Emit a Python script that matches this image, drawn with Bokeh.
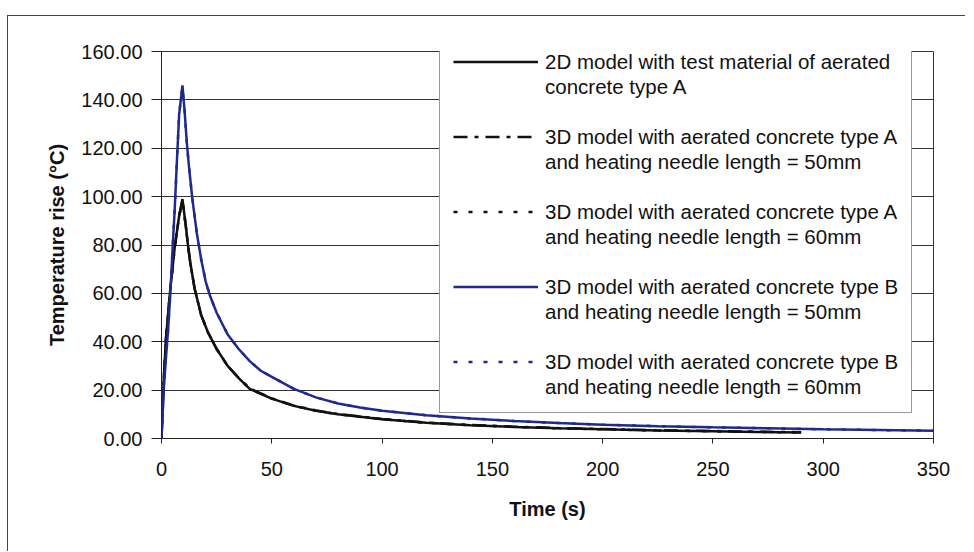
from bokeh.plotting import figure
from bokeh.models import (Legend, LegendItem, FixedTicker, PrintfTickFormatter, Range1d)
from bokeh.embed import file_html
from bokeh.resources import INLINE

# ---- data ----
time_2d = [0, 1, 2, 4, 6, 8, 9.5, 11, 12, 13, 15, 18, 21, 25, 30, 35, 40, 45, 50,
           60, 70, 80, 90, 100, 120, 140, 160, 180, 200, 225, 250, 270, 290]
temp_2d = [0, 24, 41, 62, 79, 92, 99, 88, 80, 73, 62, 51, 44, 37, 30, 25, 20.5, 18.5, 16.5,
           13.5, 11.5, 10, 9, 8, 6.5, 5.5, 4.8, 4.2, 3.8, 3.3, 3.0, 2.7, 2.5]

time_3d_a50 = [0, 1, 2, 4, 6, 8, 9.5, 11, 12, 13, 15, 18, 21, 25, 30, 35, 40, 45, 50,
               60, 70, 80, 90, 100, 120, 140, 160, 180, 200, 225, 250, 270, 290]
temp_3d_a50 = [0, 24, 41, 62, 79, 92, 98.5, 88, 80, 73, 62, 51, 44, 37, 30, 25, 20.7, 18.6, 16.6,
               13.6, 11.6, 10.1, 9.1, 8.1, 6.6, 5.6, 4.9, 4.3, 3.9, 3.4, 3.1, 2.8, 2.6]

time_3d_a60 = [0, 1, 2, 4, 6, 8, 9.5, 11, 12, 13, 15, 18, 21, 25, 30, 35, 40, 45, 50,
               60, 70, 80, 90, 100, 120, 140, 160, 180, 200, 225, 250, 270, 290]
temp_3d_a60 = [0, 24, 41, 62, 79, 92, 98, 88, 80, 73, 62, 51, 44, 37, 30, 25, 20.6, 18.5, 16.5,
               13.5, 11.5, 10, 9, 8, 6.5, 5.5, 4.8, 4.2, 3.8, 3.3, 3.0, 2.7, 2.5]

time_3d_b50 = [0, 1, 2, 3, 4, 5, 6, 7, 8, 9.5, 10.5, 11.5, 12.5, 14, 16, 18, 20, 22, 25, 30, 35,
               40, 45, 50, 60, 70, 80, 90, 100, 120, 140, 160, 180, 200, 225, 250, 275,
               300, 325, 350]
temp_3d_b50 = [0, 20, 33, 45, 60, 78, 95, 115, 134, 146, 135, 122, 112, 99, 85, 74, 65, 59,
               52, 43, 37, 32, 28, 25.5, 20.5, 17, 14.5, 12.8, 11.5, 9.6, 8.3, 7.2, 6.4,
               5.7, 5.1, 4.6, 4.2, 3.8, 3.5, 3.2]

time_3d_b60 = [0, 1, 2, 3, 4, 5, 6, 7, 8, 9.5, 10.5, 11.5, 12.5, 14, 16, 18, 20, 22, 25, 30, 35,
               40, 45, 50, 60, 70, 80, 90, 100, 120, 140, 160, 180, 200, 225, 250, 275,
               300, 325, 350]
temp_3d_b60 = [0, 20, 33, 45, 60, 78, 95, 115, 134, 145.5, 135, 122, 112, 99, 85, 74, 65, 59,
               52, 43, 37, 32, 28, 25.5, 20.5, 17, 14.5, 12.8, 11.5, 9.6, 8.3, 7.2, 6.4,
               5.7, 5.1, 4.6, 4.2, 3.8, 3.5, 3.2]

legend_lines = [
    ("2D model with test material of aerated", "concrete type A"),
    ("3D model with aerated concrete type A", "and heating needle length = 50mm"),
    ("3D model with aerated concrete type A", "and heating needle length = 60mm"),
    ("3D model with aerated concrete type B", "and heating needle length = 50mm"),
    ("3D model with aerated concrete type B", "and heating needle length = 60mm"),
]
x_ticks = [0, 50, 100, 150, 200, 250, 300, 350]
y_ticks = [0, 20, 40, 60, 80, 100, 120, 140, 160]

FONT = "Liberation Sans"
BLACK = "#111111"
BLUE = "#1f2a8c"

p = figure(width=958, height=536, output_backend="svg", toolbar_location=None,
           x_range=Range1d(0, 350), y_range=Range1d(0, 160),
           min_border_left=153, min_border_right=33, min_border_top=35,
           min_border_bottom=114, background_fill_color="white",
           border_fill_color="white")
p.styles = {"margin-left": "7px", "margin-top": "15px",
            "border-left": "1px solid #444444", "border-top": "1px solid #444444"}

p.outline_line_color = "#333333"
p.outline_line_width = 1
p.xgrid.grid_line_color = None
p.ygrid.grid_line_color = "#333333"
p.ygrid.grid_line_width = 1

p.xaxis.ticker = FixedTicker(ticks=x_ticks)
p.yaxis.ticker = FixedTicker(ticks=y_ticks)
p.yaxis.formatter = PrintfTickFormatter(format="%.2f")
p.xaxis.axis_label = "Time (s)"
p.yaxis.axis_label = "Temperature rise (°C)"
for ax in (p.xaxis, p.yaxis):
    ax.axis_line_color = "#222222"
    ax.major_tick_line_color = "#222222"
    ax.minor_tick_line_color = None
    ax.major_tick_in = 0
    ax.major_label_text_font = FONT
    ax.major_label_text_font_size = "20px"
    ax.major_label_text_color = BLACK
    ax.axis_label_text_font = FONT
    ax.axis_label_text_font_size = "20px"
    ax.axis_label_text_font_style = "bold"
    ax.axis_label_text_color = BLACK
p.yaxis.major_tick_out = 10
p.yaxis.major_label_standoff = 9
p.yaxis.axis_label_standoff = 10
p.xaxis.major_tick_out = 5
p.xaxis.major_label_standoff = 18
p.xaxis.axis_label_standoff = 19

r1 = p.line(time_2d, temp_2d, line_color=BLACK, line_width=2.5)
r2 = p.line(time_3d_a50, temp_3d_a50, line_color=BLACK, line_width=2.5, line_dash="14 7 4 7")
r3 = p.line(time_3d_a60, temp_3d_a60, line_color=BLACK, line_width=2.5, line_dash="4 11")
r4 = p.line(time_3d_b50, temp_3d_b50, line_color=BLUE, line_width=2.5)
r5 = p.line(time_3d_b60, temp_3d_b60, line_color=BLUE, line_width=2.5, line_dash="4 11")

items = []
for i, (r, (l1, l2)) in enumerate(zip([r1, r2, r3, r4, r5], legend_lines)):
    items.append(LegendItem(label=l1, renderers=[r]))
    items.append(LegendItem(label=l2, renderers=[]))
    if i < 4:
        items.append(LegendItem(label=" ", renderers=[]))

legend = Legend(items=items, location=(278, 25), orientation="vertical",
                glyph_width=85, glyph_height=25, label_height=25, spacing=0,
                padding=13, margin=0, label_standoff=7,
                label_text_font=FONT, label_text_font_size="20.5px",
                label_text_color=BLACK, border_line_color="#333333",
                border_line_width=1, background_fill_color="white",
                background_fill_alpha=1.0)
p.add_layout(legend)

open("out.html", "w").write(file_html(p, INLINE))
